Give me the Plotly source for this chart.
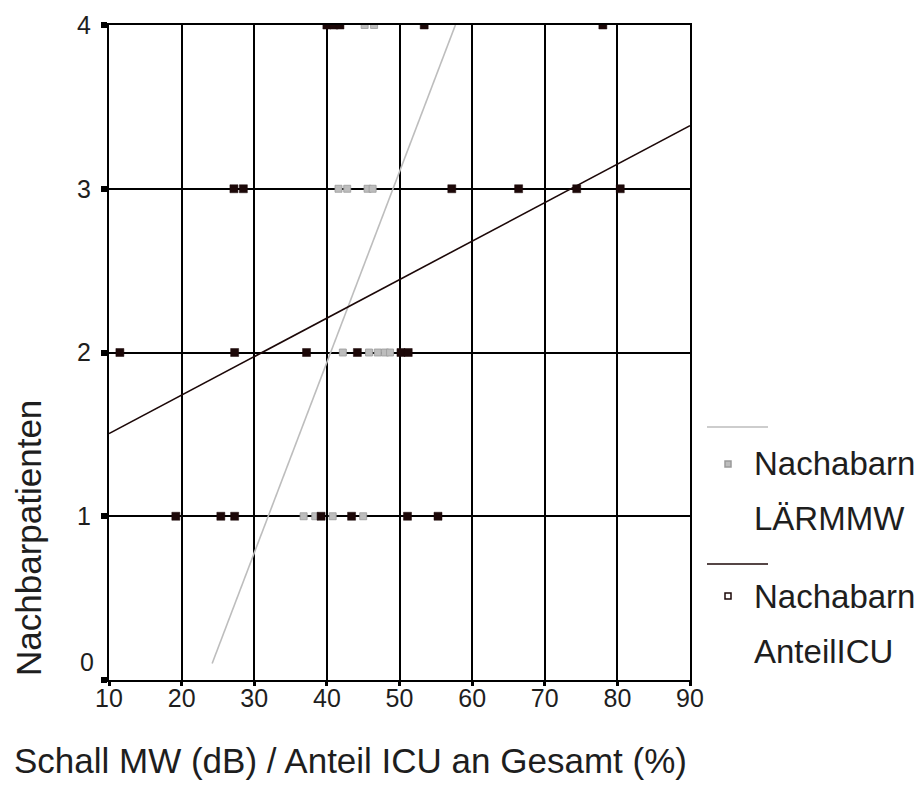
import plotly.graph_objects as go

# ---------------- data ----------------
icu_x = [40, 41, 41.8, 53.4, 78,
         27.2, 28.5, 57.2, 66.4, 74.4, 80.4,
         11.5, 27.3, 37.2, 44.2, 50.2, 51.2,
         19.2, 25.4, 27.3, 39.2, 43.4, 51.1, 55.3]
icu_y = [4, 4, 4, 4, 4,
         3, 3, 3, 3, 3, 3,
         2, 2, 2, 2, 2, 2,
         1, 1, 1, 1, 1, 1, 1]

laerm_x = [45.2, 46.5,
           41.6, 42.8, 45.6, 46.3,
           42.2, 45.8, 47.0, 48.0, 48.7,
           36.8, 38.4, 40.8, 45.0]
laerm_y = [4, 4,
           3, 3, 3, 3,
           2, 2, 2, 2, 2,
           1, 1, 1, 1]

# linear fits (intercept, slope) and x extent of drawn line
laerm_fit = (-2.716, 0.1164)
laerm_fit_x = [24.2, 57.7]
icu_fit = (1.27, 0.0235)
icu_fit_x = [10, 90]

x_ticks = [10, 20, 30, 40, 50, 60, 70, 80, 90]
y_ticks = [0, 1, 2, 3, 4]

x_title = "Schall MW (dB) / Anteil ICU an Gesamt (%)"
y_title = "Nachbarpatienten"
legend_names = ["Nachabarn<br>LÄRMMW", "Nachabarn<br>AnteilICU"]

# ---------------- styling ----------------
DARK = "#1c0808"
GRAY = "#bdbdbd"
TXT = "#1e1e1e"
FONT = "Liberation Sans, Arial, sans-serif"

L, R, T, B = 109, 229, 25, 129
W, H = 919, 809
PW, PH = W - L - R, H - T - B


def px2paper(px, py):
    return (px - L) / PW, (H - B - py) / PH


def fit_line(params, xs):
    a, b = params
    return xs, [a + b * x for x in xs]


fig = go.Figure()

lx, ly = fit_line(laerm_fit, laerm_fit_x)
fig.add_trace(go.Scatter(x=lx, y=ly, mode="lines",
                         line=dict(color=GRAY, width=1.6), showlegend=False))
ix, iy = fit_line(icu_fit, icu_fit_x)
fig.add_trace(go.Scatter(x=ix, y=iy, mode="lines",
                         line=dict(color=DARK, width=1.6), showlegend=False))

fig.add_trace(go.Scatter(x=laerm_x, y=laerm_y, mode="markers",
                         marker=dict(symbol="square", size=7, color=GRAY,
                                     line=dict(color="#9a9a9a", width=0.8)),
                         showlegend=False))
fig.add_trace(go.Scatter(x=icu_x, y=icu_y, mode="markers",
                         marker=dict(symbol="square", size=8, color=DARK,
                                     line=dict(color=DARK, width=0.5)),
                         showlegend=False))

axis_common = dict(showgrid=True, gridcolor="black", gridwidth=2,
                   showline=True, linecolor="black", linewidth=2, mirror=True,
                   zeroline=False, ticks="outside", tickcolor="black",
                   tickfont=dict(family=FONT, size=25, color=TXT))

fig.update_xaxes(range=[10, 90], tickvals=x_ticks, ticktext=[str(v) for v in x_ticks],
                 ticklen=4, tickwidth=3, ticklabelstandoff=-9, **axis_common)
fig.update_yaxes(range=[0, 4], tickvals=y_ticks,
                 ticktext=["" if v == 0 else str(v) for v in y_ticks],
                 ticklen=6, tickwidth=6, ticklabelstandoff=5, **axis_common)

annotations = []
shapes = []

# the "0" y label sits slightly above its tick, as in the original
for v in y_ticks:
    if v == 0:
        annotations.append(dict(text=str(v), xref="paper", yref="y",
                                x=0, y=v, xanchor="right", yanchor="middle",
                                xshift=-13, yshift=18, showarrow=False,
                                font=dict(family=FONT, size=25, color=TXT)))

# axis titles
tx, ty = px2paper(12, 760)
annotations.append(dict(text=x_title, xref="paper", yref="paper", x=tx, y=ty,
                        xanchor="left", yanchor="middle", showarrow=False,
                        font=dict(family=FONT, size=35, color=TXT)))
tx, ty = px2paper(28, 678)
annotations.append(dict(text=y_title, xref="paper", yref="paper", x=tx, y=ty,
                        textangle=-90, xanchor="center", yanchor="bottom",
                        showarrow=False,
                        font=dict(family=FONT, size=35, color=TXT)))

# legend (drawn manually)
legend_specs = [
    (GRAY, "#9a9a9a", 427, 464, 518, legend_names[0]),
    (DARK, DARK, 564, 596, 651, legend_names[1]),
]
for col, edge, line_y, l1_y, l2_y, name in legend_specs:
    x0, y0 = px2paper(707, line_y)
    x1, _ = px2paper(768, line_y)
    shapes.append(dict(type="line", xref="paper", yref="paper",
                       x0=x0, x1=x1, y0=y0, y1=y0,
                       line=dict(color=col, width=1.6)))
    mx0, my0 = px2paper(725, l1_y + 3)
    mx1, my1 = px2paper(731, l1_y - 3)
    shapes.append(dict(type="rect", xref="paper", yref="paper",
                       x0=mx0, x1=mx1, y0=my0, y1=my1,
                       fillcolor="white" if col == DARK else GRAY,
                       line=dict(color=edge, width=1.5)))
    first, second = name.split("<br>")
    for txt, yy in ((first, l1_y), (second, l2_y)):
        ax_, ay_ = px2paper(752, yy)
        annotations.append(dict(text=txt, xref="paper", yref="paper",
                                x=ax_, y=ay_, xanchor="left", yanchor="middle",
                                showarrow=False,
                                font=dict(family=FONT, size=33, color=TXT)))

fig.update_layout(width=W, height=H, margin=dict(l=L, r=R, t=T, b=B),
                  plot_bgcolor="white", paper_bgcolor="white",
                  annotations=annotations, shapes=shapes, showlegend=False)

fig.write_html("out.html")
